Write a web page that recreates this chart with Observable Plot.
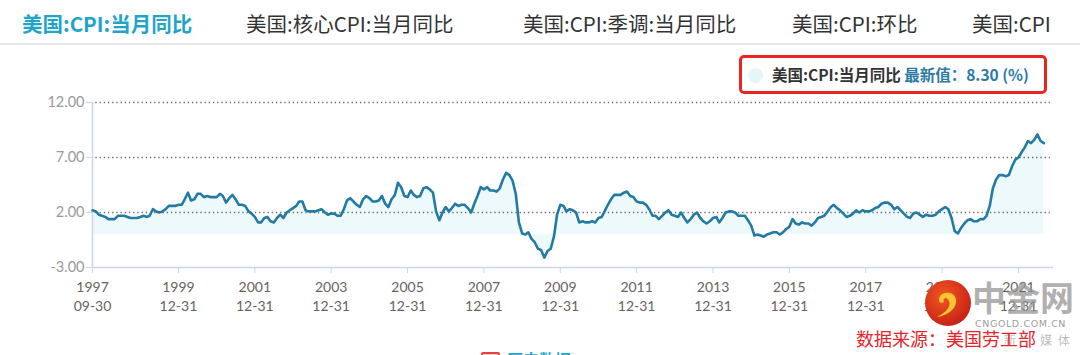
<!DOCTYPE html>
<html>
<head>
<meta charset="utf-8">
<script src="https://cdn.jsdelivr.net/npm/d3@7"></script>
<script src="https://cdn.jsdelivr.net/npm/@observablehq/plot@0.6"></script>
<style>
  html, body { margin: 0; padding: 0; background: #fff; }
  body { width: 1080px; height: 355px; overflow: hidden; position: relative;
         font-family: "Noto Sans CJK SC", "Noto Sans", sans-serif; }
  .tab { position: absolute; top: 10px; font-size: 20.5px; line-height: 26px; color: #333; white-space: nowrap; }
  .tab.active { color: #1ea5c8; font-weight: bold; }
  .sep { position: absolute; left: 0; top: 43px; width: 1080px; height: 2px; background: #e8e8e8; }
  .legend { position: absolute; left: 739px; top: 55px; width: 302px; height: 33px;
            border: 3px solid #e8261f; border-radius: 5px; box-sizing: content-box; }
  .legend .dot { position: absolute; left: 6px; top: 10px; width: 15px; height: 15px; border-radius: 50%; background: #e6f5f9; }
  .legend .txt { position: absolute; left: 30px; top: 4px; font-size: 15.5px; line-height: 24px; white-space: nowrap; font-weight: bold; color: #333; }
  .legend .val { color: #2b7aa6; }
  #chart { position: absolute; left: 0; top: 90px; }
  .src { position: absolute; left: 856px; top: 326px; font-size: 18px; line-height: 24px; color: #e3262c; white-space: nowrap; }
  .faint { position: absolute; left: 950px; top: 331px; font-size: 12px; color: rgba(120,120,120,0.5); white-space: nowrap; letter-spacing: 6px; }
  .wm { position: absolute; left: 972px; top: 276px; font-size: 34px; line-height: 42px; color: rgba(150,150,150,0.75); font-weight: bold; white-space: nowrap; }
  .wm2 { position: absolute; left: 975px; top: 318px; font-size: 9.5px; color: rgba(130,130,130,0.8); font-family: "DejaVu Sans", sans-serif; letter-spacing: 0.6px; white-space: nowrap; }
  .logo { position: absolute; left: 923px; top: 278px; }
  .hist { position: absolute; left: 481px; top: 352px; width: 15px; height: 12px; border: 2px solid #e84040; border-radius: 2px; background: #f8d0d0; }
  .histtxt { position: absolute; left: 507px; top: 347px; font-size: 16px; color: #1ea5c8; font-weight: bold; white-space: nowrap; }
</style>
</head>
<body>
<div class="tab active" style="left:22px">美国:CPI:当月同比</div>
<div class="tab" style="left:246px">美国:核心CPI:当月同比</div>
<div class="tab" style="left:523px">美国:CPI:季调:当月同比</div>
<div class="tab" style="left:792px">美国:CPI:环比</div>
<div class="tab" style="left:972px">美国:CPI</div>
<div class="sep"></div>
<div class="legend"><div class="dot"></div><div class="txt">美国:CPI:当月同比 <span class="val">最新值：8.30 (%)</span></div></div>
<div id="chart"></div>
<svg class="logo" width="50" height="50" viewBox="0 0 50 50">
  <defs>
    <radialGradient id="lg" cx="40%" cy="35%" r="70%">
      <stop offset="0%" stop-color="#f2581e"/>
      <stop offset="100%" stop-color="#c41f18"/>
    </radialGradient>
  </defs>
  <circle cx="25" cy="25" r="23" fill="url(#lg)"/>
  <path d="M16 22 C16 13, 32 12, 33 22 C34 32, 22 38, 14 39 C24 34, 28 28, 26 23 C24 18, 19 20, 21 24 C17 26, 16 24, 16 22 Z" fill="#f7c531"/>
</svg>
<div class="wm">中金网</div>
<div class="wm2">CNGOLD.COM.CN</div>
<div class="faint">文　　新　媒体</div>
<div class="src">数据来源：美国劳工部</div>
<div class="hist"></div>
<div class="histtxt">历史数据</div>
<script>
// US CPI year-over-year (%), monthly, starting 1997-09
const firstMonth = "1997-09-01";
const cpiYoY = [
  2.2, 2.1, 1.8, 1.7,
  1.6, 1.4, 1.4, 1.4, 1.7, 1.7, 1.7, 1.6, 1.5, 1.5, 1.5, 1.6,
  1.7, 1.6, 1.7, 2.3, 2.1, 2.0, 2.1, 2.3, 2.6, 2.6, 2.6, 2.7,
  2.7, 3.2, 3.8, 3.1, 3.2, 3.7, 3.7, 3.4, 3.5, 3.4, 3.4, 3.4,
  3.7, 3.5, 2.9, 3.3, 3.6, 3.2, 2.7, 2.7, 2.6, 2.1, 1.9, 1.6,
  1.1, 1.1, 1.5, 1.6, 1.2, 1.1, 1.5, 1.8, 1.5, 2.0, 2.2, 2.4,
  2.6, 3.0, 3.0, 2.2, 2.1, 2.1, 2.1, 2.2, 2.3, 2.0, 1.8, 1.9,
  1.9, 1.7, 1.7, 2.3, 3.1, 3.3, 3.0, 2.7, 2.5, 3.2, 3.5, 3.3,
  3.0, 3.0, 3.1, 3.5, 2.8, 2.5, 3.2, 3.6, 4.7, 4.3, 3.5, 3.4,
  4.0, 3.6, 3.4, 3.5, 4.2, 4.3, 4.1, 3.8, 2.1, 1.3, 2.0, 2.5,
  2.1, 2.4, 2.8, 2.6, 2.7, 2.7, 2.4, 2.0, 2.8, 3.5, 4.3, 4.1,
  4.3, 4.0, 4.0, 3.9, 4.2, 5.0, 5.6, 5.4, 4.9, 3.7, 1.1, 0.1,
  0.0, 0.2, -0.4, -0.7, -1.3, -1.4, -2.1, -1.5, -1.3, -0.2, 1.8, 2.7,
  2.6, 2.1, 2.3, 2.2, 2.0, 1.1, 1.2, 1.1, 1.1, 1.2, 1.1, 1.5,
  1.6, 2.1, 2.7, 3.2, 3.6, 3.6, 3.6, 3.8, 3.9, 3.5, 3.4, 3.0,
  2.9, 2.9, 2.7, 2.3, 1.7, 1.7, 1.4, 1.7, 2.0, 2.2, 1.8, 1.7,
  1.6, 2.0, 1.5, 1.1, 1.4, 1.8, 2.0, 1.5, 1.2, 1.0, 1.2, 1.5,
  1.6, 1.1, 1.5, 2.0, 2.1, 2.1, 2.0, 1.7, 1.7, 1.7, 1.3, 0.8,
  -0.1, 0.0, -0.1, -0.2, 0.0, 0.1, 0.2, 0.2, 0.0, 0.2, 0.5, 0.7,
  1.4, 1.0, 0.9, 1.1, 1.0, 1.0, 0.8, 1.1, 1.5, 1.6, 1.7, 2.1,
  2.5, 2.7, 2.4, 2.2, 1.9, 1.6, 1.7, 1.9, 2.2, 2.0, 2.2, 2.1,
  2.1, 2.2, 2.4, 2.5, 2.8, 2.9, 2.9, 2.7, 2.3, 2.5, 2.2, 1.9,
  1.6, 1.5, 1.9, 2.0, 1.8, 1.6, 1.8, 1.7, 1.7, 1.8, 2.1, 2.3,
  2.5, 2.3, 1.5, 0.3, 0.1, 0.6, 1.0, 1.3, 1.4, 1.2, 1.2, 1.4,
  1.4, 1.7, 2.6, 4.2, 5.0, 5.4, 5.4, 5.3, 5.4, 6.2, 6.8, 7.0,
  7.5, 7.9, 8.5, 8.3, 8.6, 9.1, 8.5, 8.3
];
const xTickDates = ["1997-09-30","1999-12-31","2001-12-31","2003-12-31","2005-12-31","2007-12-31",
  "2009-12-31","2011-12-31","2013-12-31","2015-12-31","2017-12-31","2019-12-31","2021-12-31"];
const xTickLabels = ["1997\n09-30","1999\n12-31","2001\n12-31","2003\n12-31","2005\n12-31","2007\n12-31",
  "2009\n12-31","2011\n12-31","2013\n12-31","2015\n12-31","2017\n12-31","2019\n12-31","2021\n12-31"];
const yTicks = [-3, 2, 7, 12];
const gridValues = [2, 7, 12];
const xDomain = ["1997-09-30", "2022-12-01"];

// month-end dates for each monthly value
const start = new Date(firstMonth + "T00:00:00Z");
const data = cpiYoY.map((v, i) => ({
  date: d3.utcDay.offset(d3.utcMonth.offset(start, i + 1), -1),
  value: v
}));
const tickDates = xTickDates.map(s => new Date(s + "T00:00:00Z"));
const labelOf = new Map(tickDates.map((d, i) => [+d, xTickLabels[i]]));

const axisColor = "#ccd6eb";
const chart = Plot.plot({
  width: 1080,
  height: 232,
  marginLeft: 92,
  marginRight: 27,
  marginTop: 12,
  marginBottom: 55,
  style: { fontFamily: "Lato, 'Noto Sans', sans-serif", background: "transparent" },
  x: { type: "utc", domain: xDomain.map(s => new Date(s + "T00:00:00Z")), label: null },
  y: { domain: [-3, 12], label: null },
  marks: [
    Plot.areaY(data, { x: "date", y: "value", fill: "#edf9fb", curve: "linear" }),
    Plot.ruleY(gridValues, { x1: new Date("1997-11-01T00:00:00Z"), x2: new Date("2022-11-01T00:00:00Z"),
      stroke: "#666", strokeWidth: 1.3, strokeDasharray: "1.3,2.9" }),
    Plot.ruleY([-3], { stroke: axisColor, strokeWidth: 1.5 }),
    Plot.ruleX([new Date(xDomain[0] + "T00:00:00Z")], { stroke: axisColor, strokeWidth: 1.5 }),
    Plot.axisY({ ticks: yTicks, tickFormat: d => d.toFixed(2), tickSize: 6, tickPadding: 2,
      stroke: axisColor, fill: "#9a9a9a", fontSize: 14.5, label: null }),
    Plot.axisX({ ticks: tickDates, tickFormat: d => labelOf.get(+d), tickSize: 6, tickPadding: 6,
      stroke: axisColor, fill: "#6a6260", fontSize: 14, lineHeight: 1.3, label: null }),
    Plot.lineY(data, { x: "date", y: "value", stroke: "#237ba3", strokeWidth: 2.6, curve: "linear" })
  ]
});
document.getElementById("chart").appendChild(chart);
</script>
</body>
</html>
